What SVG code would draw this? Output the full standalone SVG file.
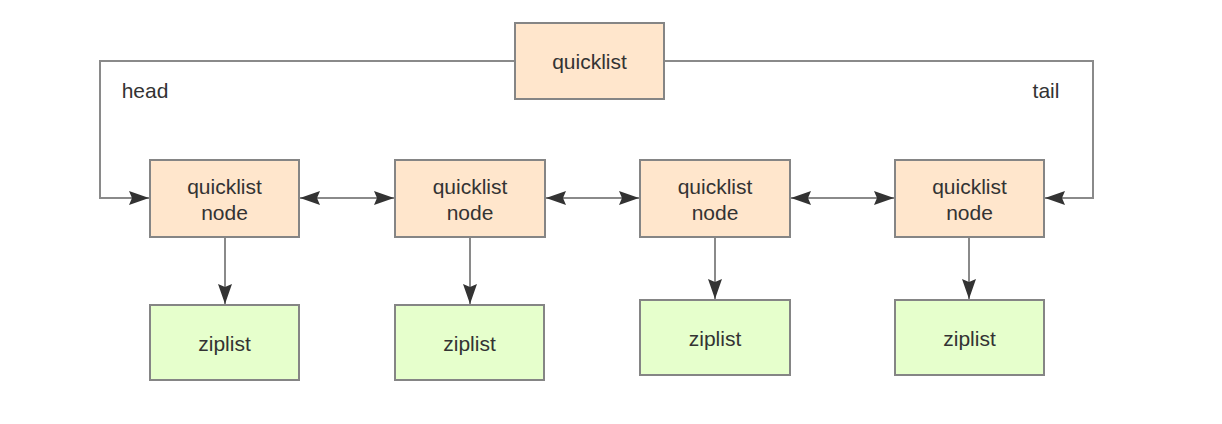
<svg xmlns="http://www.w3.org/2000/svg" width="1222" height="424" viewBox="0 0 1222 424">
<style>
.box{stroke:#858585;stroke-width:2}
.ql{fill:#ffe6cc}
.zl{fill:#e6ffcc}
.t{font-family:"Liberation Sans",Arial,sans-serif;font-size:21px;fill:#333;text-anchor:middle}
.c{fill:none;stroke:#8a8a8a;stroke-width:2}
</style>
<defs>
<marker id="ah" markerUnits="userSpaceOnUse" markerWidth="22" markerHeight="16" refX="20" refY="8" orient="auto-start-reverse" viewBox="0 0 22 16">
<path d="M0,1 L20,8 L0,15 L3,8 z" fill="#333"/>
</marker>
</defs>
<rect width="1222" height="424" fill="#fff"/>
<g id="connectors">
<path class="c" d="M515,61 H100 V198 H149" marker-end="url(#ah)"/>
<path class="c" d="M664,61 H1093 V198 H1045" marker-end="url(#ah)"/>
<path class="c" d="M300,198 H394" marker-start="url(#ah)" marker-end="url(#ah)"/>
<path class="c" d="M546,198 H639" marker-start="url(#ah)" marker-end="url(#ah)"/>
<path class="c" d="M791,198 H894" marker-start="url(#ah)" marker-end="url(#ah)"/>
<path class="c" d="M225,237 V304" marker-end="url(#ah)"/>
<path class="c" d="M470,237 V304" marker-end="url(#ah)"/>
<path class="c" d="M715,237 V299" marker-end="url(#ah)"/>
<path class="c" d="M969,237 V299" marker-end="url(#ah)"/>
<text class="t" x="145" y="98">head</text>
<text class="t" x="1046" y="98">tail</text>
</g>
<g id="quicklist"><rect class="box ql" x="515" y="23" width="149" height="76"/><text class="t" x="589.5" y="69">quicklist</text></g>
<g id="node1"><rect class="box ql" x="150" y="160" width="149" height="77"/><text class="t" x="224.5" y="194">quicklist</text><text class="t" x="224.5" y="220">node</text></g>
<g id="node2"><rect class="box ql" x="395" y="160" width="150" height="77"/><text class="t" x="470" y="194">quicklist</text><text class="t" x="470" y="220">node</text></g>
<g id="node3"><rect class="box ql" x="640" y="160" width="150" height="77"/><text class="t" x="715" y="194">quicklist</text><text class="t" x="715" y="220">node</text></g>
<g id="node4"><rect class="box ql" x="895" y="160" width="149" height="77"/><text class="t" x="969.5" y="194">quicklist</text><text class="t" x="969.5" y="220">node</text></g>
<g id="ziplist1"><rect class="box zl" x="150" y="305" width="149" height="75"/><text class="t" x="224.5" y="351">ziplist</text></g>
<g id="ziplist2"><rect class="box zl" x="395" y="305" width="149" height="75"/><text class="t" x="469.5" y="351">ziplist</text></g>
<g id="ziplist3"><rect class="box zl" x="640" y="300" width="150" height="75"/><text class="t" x="715" y="346">ziplist</text></g>
<g id="ziplist4"><rect class="box zl" x="895" y="300" width="149" height="75"/><text class="t" x="969.5" y="346">ziplist</text></g>
</svg>
